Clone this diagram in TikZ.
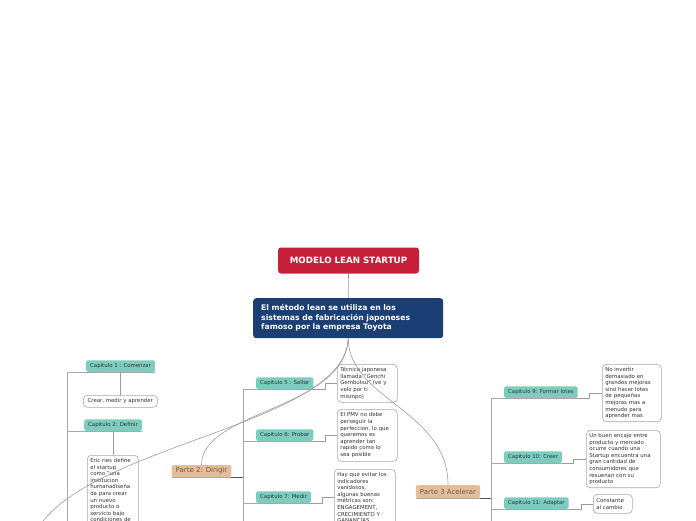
\documentclass[tikz,border=0pt]{standalone}
\usepackage{fontspec}
\setmainfont{DejaVu Sans}
\definecolor{mred}{HTML}{C8203A}
\definecolor{mblue}{HTML}{1B3F75}
\definecolor{mteal}{HTML}{7CCDBF}
\definecolor{mpeach}{HTML}{E4BD9B}
\definecolor{mline}{HTML}{9C9C9C}
\definecolor{mtext}{HTML}{333333}
\definecolor{mbord}{HTML}{A8A8A8}
\definecolor{mparte}{HTML}{6A5A4C}
\definecolor{mdark}{HTML}{555555}
\begin{document}
\begin{tikzpicture}[x=1pt,y=-1pt,
  titlebox/.style={fill=mred,rounded corners=3pt,text=white,inner sep=0pt,
    minimum width=141pt,minimum height=26pt,font=\bfseries\fontsize{8.7}{10}\selectfont},
  centralbox/.style={fill=mblue,rounded corners=3pt,text=white,inner xsep=8pt,inner ysep=0pt,
    text width=174pt,align=left,minimum height=40pt,anchor=north west,
    font=\bfseries\fontsize{7.7}{9.5}\selectfont},
  chapbox/.style={fill=mteal,rounded corners=1.5pt,text=mtext,inner xsep=4pt,inner ysep=0pt,
    minimum height=11.5pt,anchor=south west,font=\fontsize{5.4}{6.5}\selectfont},
  partebox/.style={fill=mpeach,rounded corners=1.5pt,text=mparte,inner xsep=4pt,inner ysep=0pt,
    font=\fontsize{7}{8}\selectfont},
  txtbox/.style={draw=mbord,line width=0.6pt,rounded corners=4pt,fill=white,text=mtext,
    inner xsep=3pt,inner ysep=3pt,align=left,anchor=north west,
    font=\fontsize{5.4}{6.6}\selectfont},
  conn/.style={draw=mline,line width=0.6pt},
  trunk/.style={draw=mbord,line width=0.8pt},
  darkline/.style={draw=mdark,line width=1pt}]
\useasboundingbox (0,0) rectangle (696,520);

% root and central
\node[titlebox] (root) at (348.5,260.5) {MODELO LEAN STARTUP};
\node[centralbox] (center) at (253,298) {El método lean se utiliza en los\\sistemas de fabricación japoneses\\famoso por la empresa Toyota};
\draw[conn] (root.south) -- (center.north);

% ---- Parte 1 (left) ----
\coordinate (t1) at (67,372);
\coordinate (t1end) at (67,540);
\node[chapbox] (cap1) at (86,372) {Capitulo 1 : Comenzar};
\node[chapbox] (cap2) at (84,431) {Capitulo 2: Definir};
\node[txtbox,text width=68pt,align=center,minimum height=12pt,inner ysep=1pt] (crear) at (83,395) {Crear, medir y aprender};
\node[txtbox,text width=45pt] (eric) at (87,455) {Eric ries define\\el startup\\como "una\\institucion\\humanadiseña\\da para crear\\un nuevo\\producto o\\servicio bajo\\condiciones de};
\draw[trunk] (t1) -- (t1end);
\draw[trunk] (cap1.south east) -- (cap1.south east -| t1);
\draw[trunk] (cap2.south east) -- (cap2.south east -| t1);
\draw[conn] (cap1.south) -- (cap1.south |- crear.north);
\draw[conn] (cap2.south) -- (cap2.south |- eric.north);

% ---- Parte 2 ----
\node[partebox,minimum height=12pt] (p2) at (201.5,471) {Parte 2: Dirigir};
\coordinate (t2) at (243,389);
\coordinate (t2end) at (243,540);
\node[chapbox] (cap5) at (256,389) {Capitulo 5 : Saltar};
\node[chapbox] (cap6) at (256,441) {Capitulo 6: Probar};
\node[chapbox] (cap7) at (256,503) {Capitulo 7: Medir};
\node[txtbox,text width=54pt,minimum height=38pt] (tec) at (337,364) {Técnica japonesa\\llamada "Genchi\\Gembutsu" (ve y\\velo por ti\\mismpo)};
\node[txtbox,text width=54pt,minimum height=52pt] (pmv) at (337,409) {El PMV no debe\\perseguir la\\perfeccion, lo que\\queremos es\\aprender tan\\rapido como lo\\sea posible};
\node[txtbox,text width=55pt] (hay) at (334,469) {Hay que evitar los\\indicadores\\vanidosos,\\algunas buenas\\métricas son:\\ENGAGEMENT,\\CRECIMIENTO Y\\GANANCIAS};
\draw[trunk] (t2) -- (t2end);
\draw[trunk] (p2.south west) -- (p2.south east);
\draw[darkline] (p2.south east) -- (p2.south east -| t2);
\draw[trunk] (cap5.south east) -- (cap5.south east -| t2);
\draw[trunk] (cap6.south east) -- (cap6.south east -| t2);
\draw[trunk] (cap7.south east) -- (cap7.south east -| t2);
\draw[conn] (cap5.south east) -- ++(12,0) |- (tec.west);
\draw[conn] (cap6.south east) -- ++(12,0) |- (pmv.west);
\draw[conn] (cap7.south east) -- ++(11,0) |- (hay.west);

% ---- Parte 3 ----
\node[partebox,minimum height=13pt] (p3) at (448,491.5) {Parte 3 Acelerar};
\coordinate (t3) at (491,398);
\coordinate (t3end) at (491,540);
\node[chapbox] (cap9) at (504,398) {Capitulo 9: Formar lotes};
\node[chapbox] (cap10) at (504,463) {Capitulo 10: Creer};
\node[chapbox] (cap11) at (504,509) {Capitulo 11: Adaptar};
\node[txtbox,text width=53pt,minimum height=57pt] (noinv) at (602,364) {No invertir\\demasiado en\\grandes mejoras\\sino hacer lotes\\de pequeñas\\mejoras mas a\\menudo para\\aprender mas};
\node[txtbox,text width=68pt,minimum height=57pt] (buen) at (586,430) {Un buen encaje entre\\producto y mercado\\ocurre cuando una\\Startup encuentra una\\gran cantidad de\\consumidores que\\resuenan con su\\producto};
\node[txtbox,text width=33pt,minimum height=19pt] (const) at (593,494) {Constante\\al cambio};
\draw[trunk] (t3) -- (t3end);
\draw[trunk] (p3.south west) -- (p3.south east);
\draw[darkline] (p3.south east) -- (p3.south east -| t3);
\draw[trunk] (cap9.south east) -- (cap9.south east -| t3);
\draw[trunk] (cap10.south east) -- (cap10.south east -| t3);
\draw[trunk] (cap11.south east) -- (cap11.south east -| t3);
\draw[conn] (cap9.south east) -- ++(11,0) |- (noinv.west);
\draw[conn] (cap10.south east) -- ++(11,0) |- (buen.west);
\draw[conn] (cap11.south east) -- ++(12,0) |- (const.west);

% ---- curves from the central node ----
\coordinate (p1top) at (30,545);
\draw[conn] (center.south) .. controls (345,430) and (60,445) .. (p1top);
\draw[conn] (center.south) .. controls (345,410) and (202,410) .. (p2.north);
\draw[conn] (center.south) .. controls (349,400) and (448,410) .. (p3.north);
\end{tikzpicture}
\end{document}
